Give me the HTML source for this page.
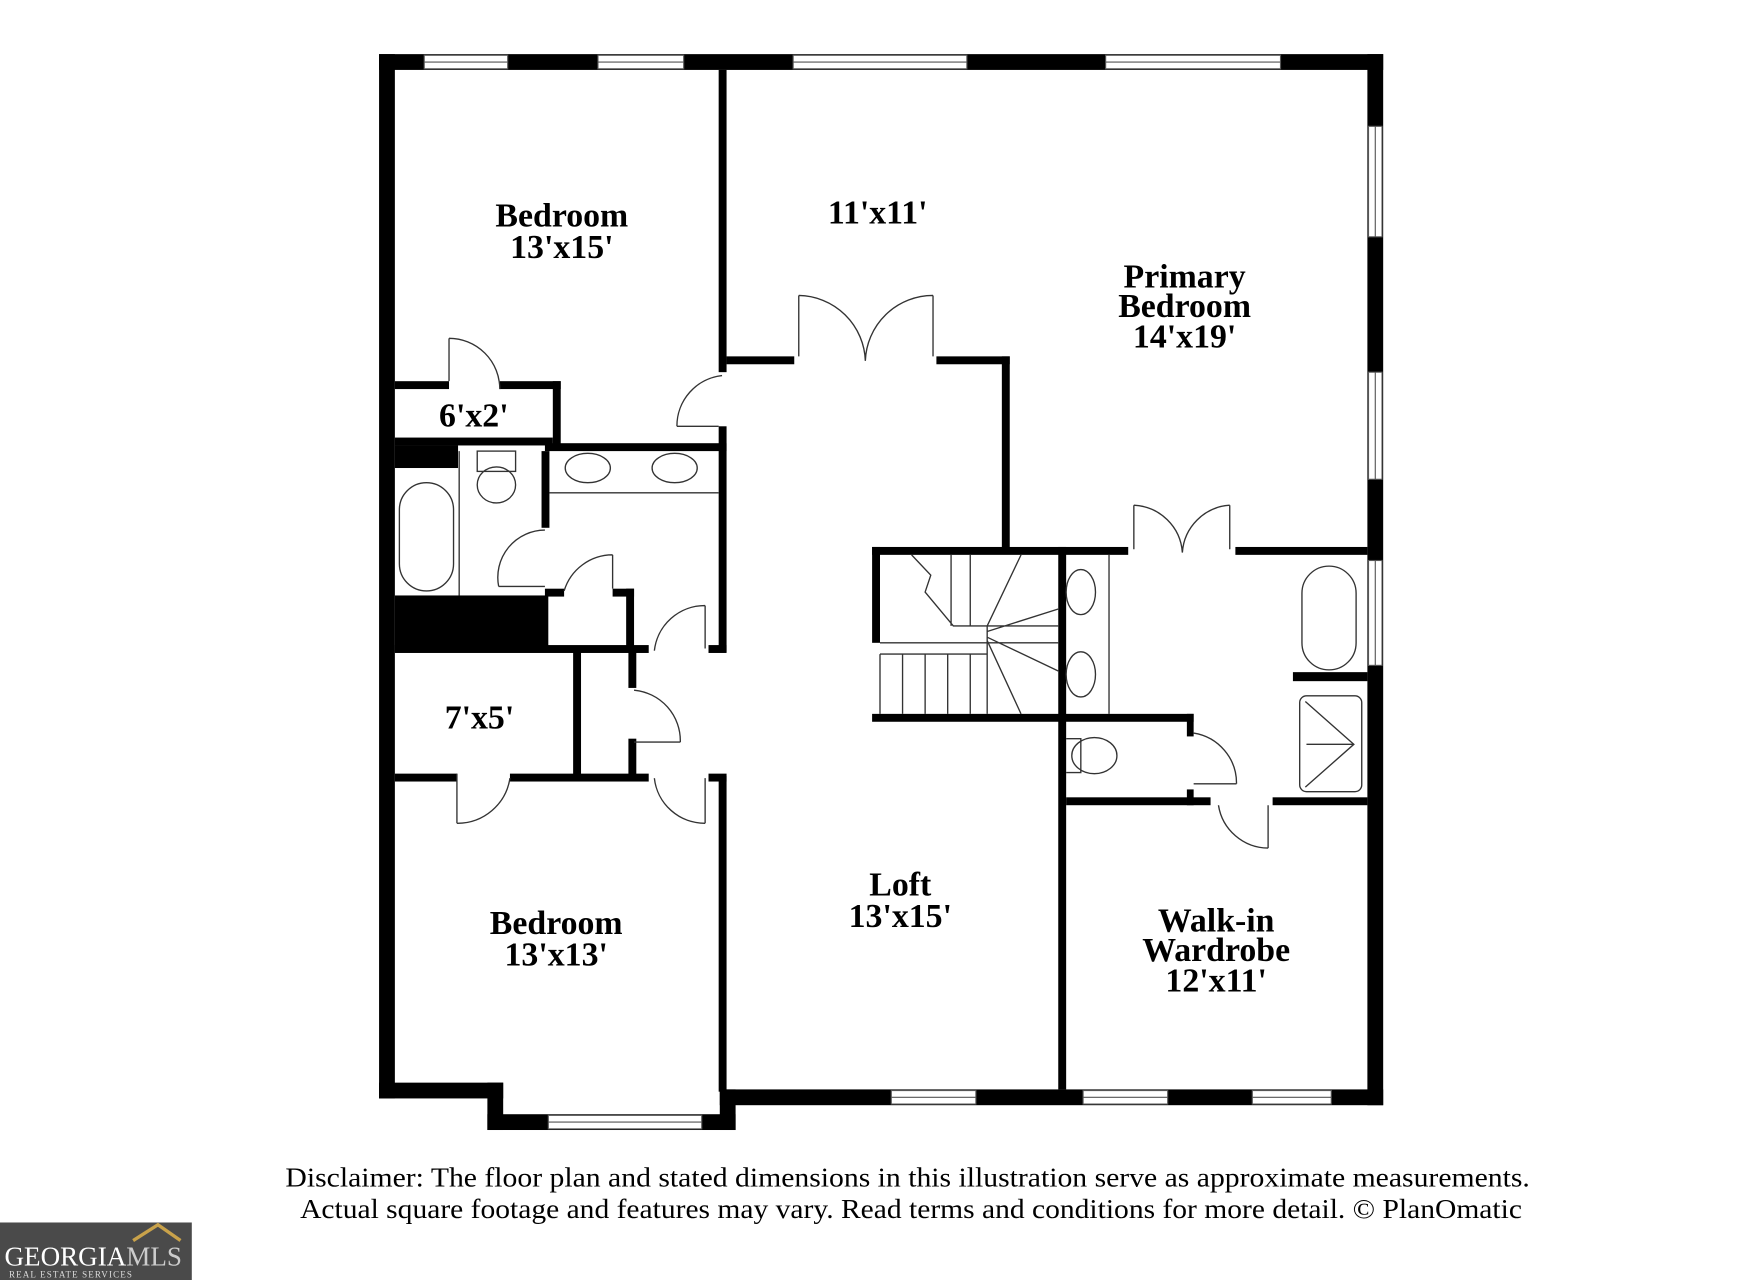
<!DOCTYPE html>
<html><head><meta charset="utf-8"><style>
html,body{margin:0;padding:0;background:#fff;}
svg{display:block;}
text{font-family:"Liberation Serif",serif;}
.l{font-weight:bold;font-size:30px;text-anchor:middle;fill:#000;}
.d{font-size:24px;fill:#000;}
</style></head><body>
<svg width="1760" height="1280" viewBox="0 0 1560 1135" preserveAspectRatio="none" xmlns="http://www.w3.org/2000/svg">
<rect width="1560" height="1135" fill="#fff"/>
<g fill="#000">
<rect x="336" y="48" width="890" height="14"/>
<rect x="336" y="48" width="14" height="926"/>
<rect x="1212" y="48" width="14" height="932"/>
<rect x="638" y="966" width="588" height="14"/>
<rect x="336" y="960" width="110" height="14"/>
<rect x="432" y="960" width="14" height="42"/>
<rect x="432" y="988" width="220" height="14"/>
<rect x="638" y="966" width="14" height="36"/>
<rect x="637" y="62" width="7" height="268"/>
<rect x="637" y="378" width="7" height="200"/>
<rect x="644" y="316" width="60" height="7"/>
<rect x="830" y="316" width="65" height="7"/>
<rect x="888" y="316" width="7" height="174"/>
<rect x="773" y="485" width="227" height="7"/>
<rect x="1095" y="485" width="117" height="7"/>
<rect x="773" y="485" width="7" height="85"/>
<rect x="773" y="633" width="285" height="7"/>
<rect x="938" y="485" width="7" height="481"/>
<rect x="1052" y="633" width="6" height="20"/>
<rect x="1052" y="700" width="6" height="14"/>
<rect x="945" y="707" width="128" height="7"/>
<rect x="1128" y="707" width="84" height="7"/>
<rect x="1146" y="596" width="66" height="8"/>
<rect x="350" y="338" width="48" height="7"/>
<rect x="443" y="338" width="54" height="7"/>
<rect x="490" y="338" width="7" height="60"/>
<rect x="350" y="388" width="140" height="7"/>
<rect x="350" y="395" width="56" height="20"/>
<rect x="483" y="393" width="161" height="7"/>
<rect x="480" y="400" width="7" height="68"/>
<rect x="350" y="528" width="136" height="50"/>
<rect x="483" y="522" width="17" height="7"/>
<rect x="543" y="522" width="19" height="7"/>
<rect x="555" y="522" width="7" height="56"/>
<rect x="350" y="572" width="225" height="7"/>
<rect x="628" y="572" width="16" height="7"/>
<rect x="508" y="578" width="7" height="112"/>
<rect x="557" y="578" width="7" height="32"/>
<rect x="557" y="655" width="7" height="35"/>
<rect x="350" y="686" width="55" height="7"/>
<rect x="452" y="686" width="123" height="7"/>
<rect x="628" y="686" width="16" height="7"/>
<rect x="637" y="688" width="7" height="280"/>
</g>
<g fill="#fff" stroke="#555" stroke-width="1">
<rect x="376" y="49" width="74" height="12"/><rect x="530" y="49" width="76" height="12"/>
<rect x="703" y="49" width="154" height="12"/><rect x="980" y="49" width="155" height="12"/>
<rect x="1213" y="112" width="12" height="98"/><rect x="1213" y="330" width="12" height="95"/><rect x="1213" y="497" width="12" height="93"/>
<rect x="790" y="967" width="75" height="12"/><rect x="960" y="967" width="75" height="12"/><rect x="1110" y="967" width="70" height="12"/>
<rect x="486" y="989" width="136" height="12"/>
</g>
<g stroke="#555" stroke-width="1">
<line x1="376" y1="55" x2="450" y2="55"/><line x1="530" y1="55" x2="606" y2="55"/><line x1="703" y1="55" x2="857" y2="55"/><line x1="980" y1="55" x2="1135" y2="55"/>
<line x1="1219" y1="112" x2="1219" y2="210"/><line x1="1219" y1="330" x2="1219" y2="425"/><line x1="1219" y1="497" x2="1219" y2="590"/>
<line x1="790" y1="973" x2="865" y2="973"/><line x1="960" y1="973" x2="1035" y2="973"/><line x1="1110" y1="973" x2="1180" y2="973"/><line x1="486" y1="995" x2="622" y2="995"/>
</g>
<g fill="none" stroke="#333" stroke-width="1.2">
<path d="M708 262 V316 M708 262 A60 60 0 0 1 767 320 M827 262 V316 M827 262 A60 60 0 0 0 767 320"/>
<path d="M600 378 H637 M600 378 A45 45 0 0 1 640 333"/>
<path d="M398 300 V338 M398 300 A45 45 0 0 1 443 345"/>
<path d="M442 520 H483 M442 520 A42 42 0 0 1 483 470"/>
<path d="M543 492 V522 M543 492 A45 45 0 0 0 500 524"/>
<path d="M625 537 V575 M625 537 A45 45 0 0 0 580 577"/>
<path d="M603 658 H562 M603 658 A45 45 0 0 0 562 612"/>
<path d="M405 686 V730 M405 730 A47 47 0 0 0 452 690"/>
<path d="M625 730 V690 M625 730 A45 45 0 0 1 580 690"/>
<path d="M1005 448 V487 M1005 448 A45 45 0 0 1 1048 490 M1090 448 V487 M1090 448 A45 45 0 0 0 1048 490"/>
<path d="M1096 695 H1058 M1096 695 A45 45 0 0 0 1058 650"/>
<path d="M1124 752 V714 M1124 752 A45 45 0 0 1 1080 714"/>
<rect x="354" y="428" width="48" height="96" rx="24"/>
<path d="M407 400 V528 M487 437 H637"/>
<rect x="423" y="400" width="34" height="18"/><ellipse cx="440" cy="430" rx="17" ry="16"/>
<ellipse cx="521" cy="415" rx="20" ry="13"/><ellipse cx="598" cy="415" rx="20" ry="13"/>
<rect x="1154" y="502" width="48" height="92" rx="24"/>
<rect x="1152" y="617" width="55" height="85" rx="6"/>
<path d="M1157 622 L1200 660 L1157 698 M1158 660 H1200"/>
<path d="M983 492 V633"/>
<ellipse cx="958" cy="525" rx="13" ry="20"/><ellipse cx="958" cy="598" rx="13" ry="20"/>
<ellipse cx="970" cy="670" rx="20" ry="16"/><path d="M945 655 H958 V685 H945"/>
<path d="M780 570 H938 M780 580 H875 M780 633 V580 M800 580 V633 M820 580 V633 M840 580 V633 M860 580 V633 M875 555 V633 M875 560 L938 540 M875 565 L938 595 M875 568 L905 633 M875 555 L905 492 M875 555 H938 M875 555 H845 L820 525 L825 510 L808 492 M843 492 V555 M860 492 V555"/>
</g>
<text class="l" x="498" y="201">Bedroom</text><text class="l" x="498" y="229">13'x15'</text>
<text class="l" x="778" y="198">11'x11'</text>
<text class="l" x="1050" y="255">Primary</text><text class="l" x="1050" y="281">Bedroom</text><text class="l" x="1050" y="308">14'x19'</text>
<text class="l" x="420" y="378">6'x2'</text>
<text class="l" x="425" y="646">7'x5'</text>
<text class="l" x="798" y="794">Loft</text><text class="l" x="798" y="822">13'x15'</text>
<text class="l" x="493" y="828">Bedroom</text><text class="l" x="493" y="856">13'x13'</text>
<text class="l" x="1078" y="826">Walk-in</text><text class="l" x="1078" y="852">Wardrobe</text><text class="l" x="1078" y="879">12'x11'</text>
<text class="d" x="253" y="1052" textLength="1103" lengthAdjust="spacingAndGlyphs">Disclaimer: The floor plan and stated dimensions in this illustration serve as approximate measurements.</text>
<text class="d" x="266" y="1080" textLength="1083" lengthAdjust="spacingAndGlyphs">Actual square footage and features may vary. Read terms and conditions for more detail. © PlanOmatic</text>
<rect x="0" y="1084" width="170" height="51" fill="#4a4a4a"/>
<path d="M118 1100 L140 1086 L160 1100" fill="none" stroke="#c9a24a" stroke-width="3"/>
<text x="4" y="1122" font-family="Liberation Sans, sans-serif" font-size="24" fill="#fff">GEORGIA<tspan fill="#ccc">MLS</tspan></text>
<text x="8" y="1133" font-family="Liberation Sans, sans-serif" font-size="8" fill="#ddd" letter-spacing="1">REAL ESTATE SERVICES</text>
</svg>
</body></html>
